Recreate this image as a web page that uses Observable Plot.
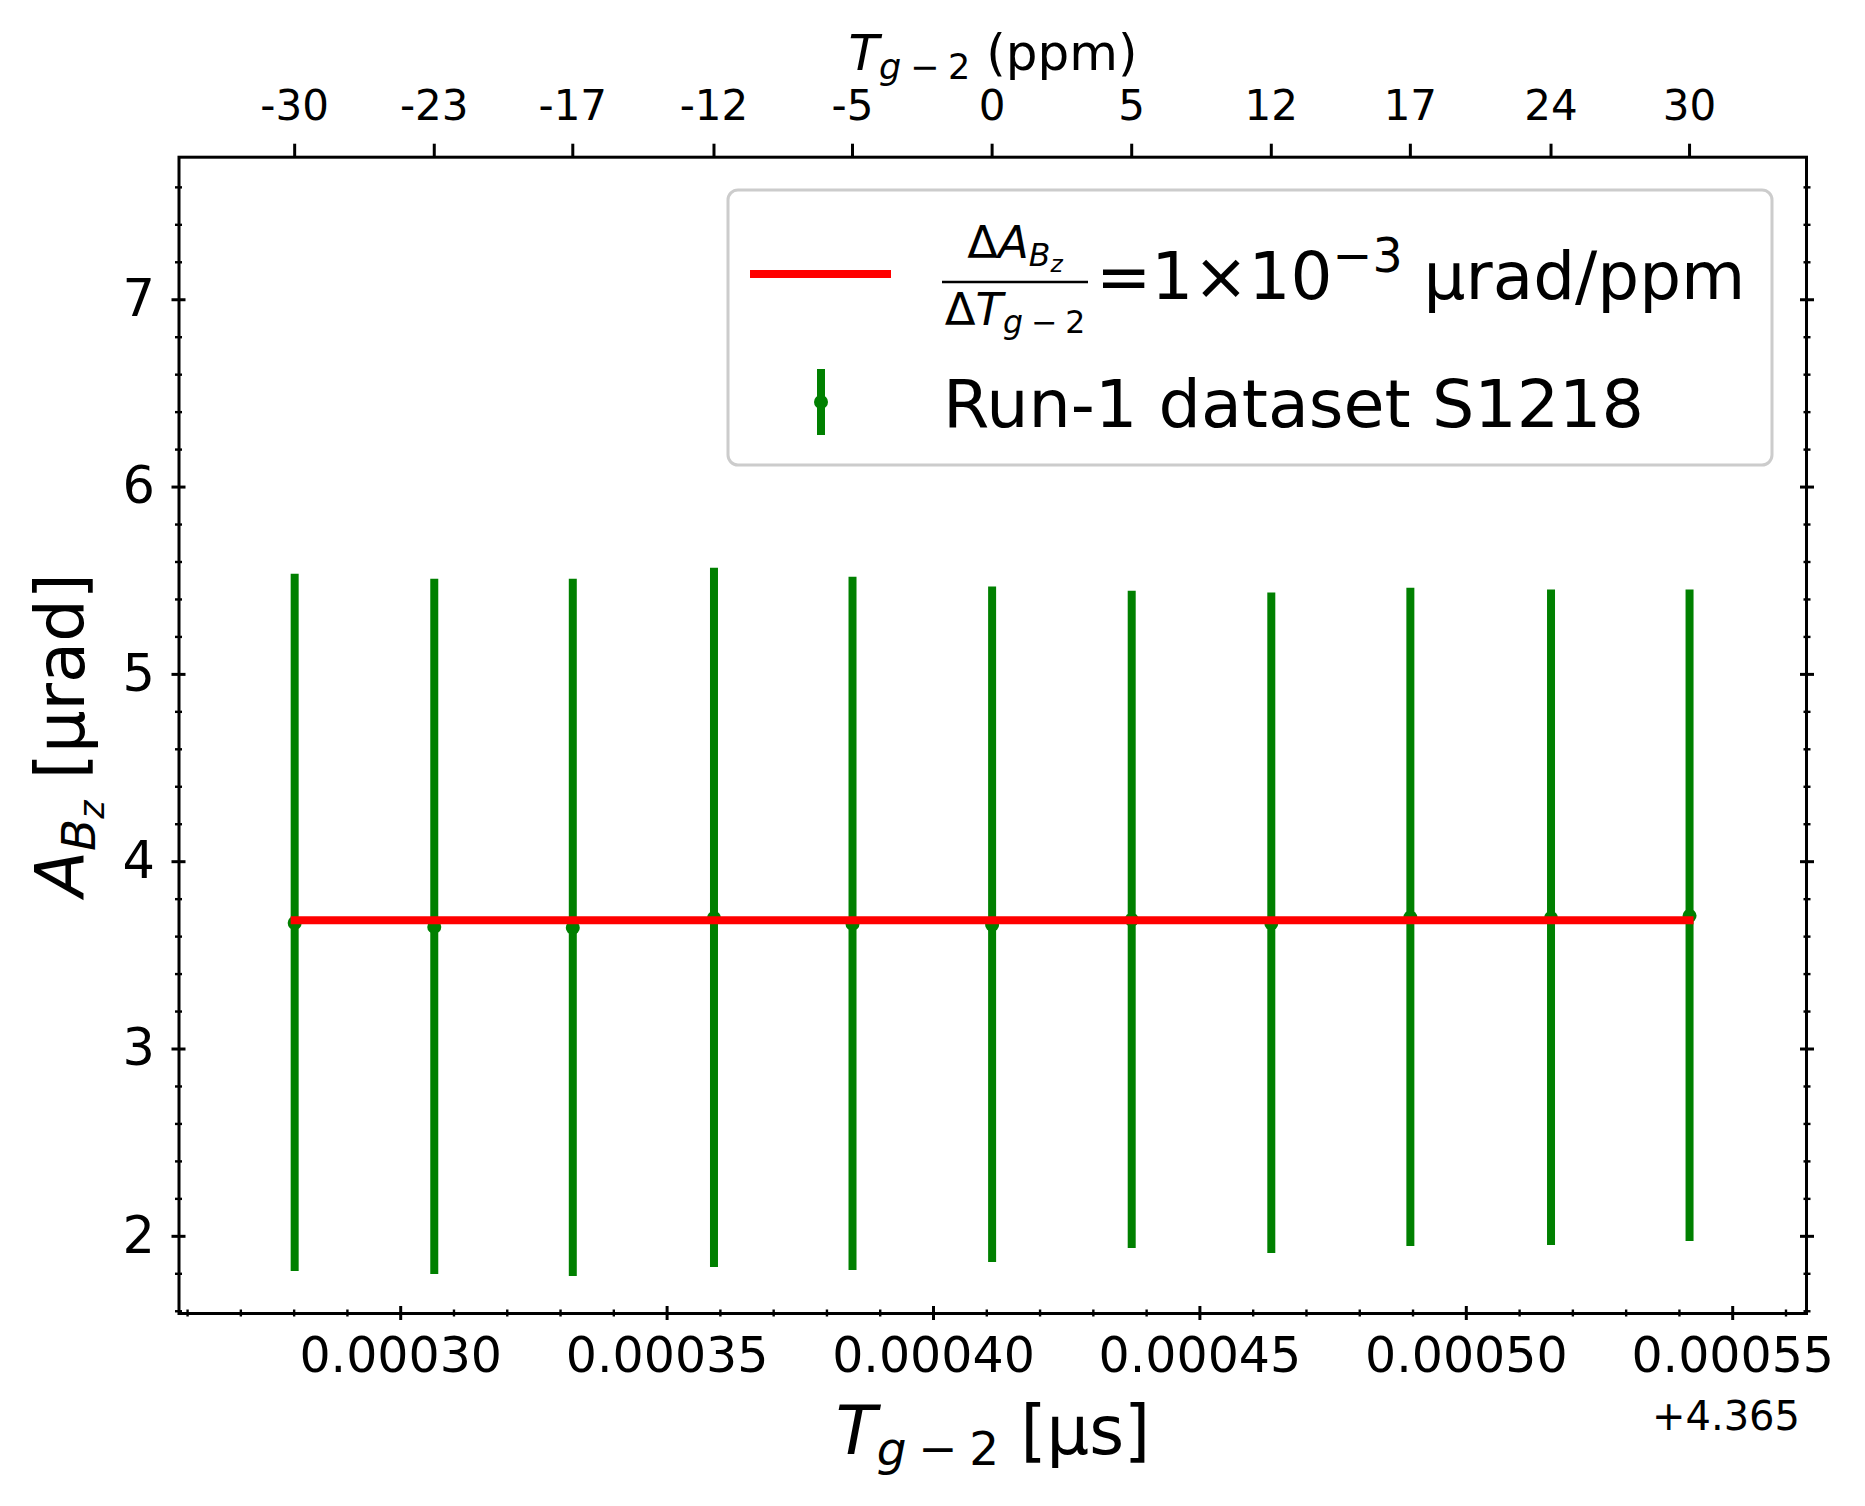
<!DOCTYPE html>
<html><head><meta charset="utf-8">
<script src="https://cdn.jsdelivr.net/npm/d3@7"></script>
<script src="https://cdn.jsdelivr.net/npm/@observablehq/plot@0.6"></script>
<style>body{margin:0;background:#fff;} svg{display:block}</style>
</head><body><div id="chart"></div>
<script>
// T_{g-2} offsets from 4.365 µs
const xBase = "+4.365";
const tOffsets = [0.0002801, 0.0003063, 0.0003323, 0.0003588, 0.0003848, 0.0004110, 0.0004372, 0.0004634, 0.0004895, 0.0005159, 0.0005419];
const ppmLabels = ["-30", "-23", "-17", "-12", "-5", "0", "5", "12", "17", "24", "30"];
const aBz   = [3.673, 3.652, 3.647, 3.700, 3.668, 3.663, 3.690, 3.671, 3.703, 3.700, 3.711];
const aBzHi = [5.535, 5.508, 5.508, 5.567, 5.519, 5.466, 5.444, 5.434, 5.460, 5.450, 5.450];
const aBzLo = [1.812, 1.796, 1.786, 1.834, 1.818, 1.860, 1.935, 1.908, 1.946, 1.951, 1.972];
const fitX = [0.0002801, 0.0005419];
const fitY = [3.688, 3.688];
const xTicks = [0.00030, 0.00035, 0.00040, 0.00045, 0.00050, 0.00055];
const xTickLabels = ["0.00030", "0.00035", "0.00040", "0.00045", "0.00050", "0.00055"];
const xMinor = [0.00026, 0.00027, 0.00028, 0.00029, 0.00031, 0.00032, 0.00033, 0.00034, 0.00036, 0.00037, 0.00038, 0.00039, 0.00041, 0.00042, 0.00043, 0.00044, 0.00046, 0.00047, 0.00048, 0.00049, 0.00051, 0.00052, 0.00053, 0.00054, 0.00056];
const yTicks = [2, 3, 4, 5, 6, 7];
const yTickLabels = ["2", "3", "4", "5", "6", "7"];
const yMinor = [1.6, 1.8, 2.2, 2.4, 2.6, 2.8, 3.2, 3.4, 3.6, 3.8, 4.2, 4.4, 4.6, 4.8, 5.2, 5.4, 5.6, 5.8, 6.2, 6.4, 6.6, 6.8, 7.2, 7.4, 7.6];
const legendFit = "=1×10";
const legendData = "Run-1 dataset S1218";

const data = tOffsets.map((x, i) => ({x, y: aBz[i], lo: aBzLo[i], hi: aBzHi[i]}));
const fit = fitX.map((x, i) => ({x, y: fitY[i]}));
const ppmMap = new Map(tOffsets.map((d, i) => [d, ppmLabels[i]]));
const xLabMap = new Map(xTicks.map((d, i) => [d, xTickLabels[i]]));
const yLabMap = new Map(yTicks.map((d, i) => [d, yTickLabels[i]]));
const blank = () => "";

const plot = Plot.plot({
  width: 1865, height: 1506,
  marginLeft: 178.5, marginRight: 59, marginTop: 156.7, marginBottom: 193,
  style: {fontFamily: "DejaVu Sans", background: "white", color: "black"},
  x: {domain: [0.00025839, 0.00056385]},
  y: {domain: [1.588, 7.761]},
  marks: [
    Plot.ruleX(data, {x: "x", y1: "lo", y2: "hi", stroke: "#008000", strokeWidth: 8}),
    Plot.dot(data, {x: "x", y: "y", r: 7, fill: "#008000", stroke: "none"}),
    Plot.line(fit, {x: "x", y: "y", stroke: "#ff0000", strokeWidth: 8, strokeLinecap: "square"}),
    // left axis
    Plot.axisY(yTicks, {anchor: "left", tickSize: 0, tickPadding: 24, fontSize: 51, tickFormat: d => yLabMap.get(d), label: null}),
    Plot.axisY(yTicks, {anchor: "left", tickSize: 14, dx: 7, tickFormat: blank, label: null, strokeWidth: 3}),
    Plot.axisY(yMinor, {anchor: "left", tickSize: 7, dx: 3.5, tickFormat: blank, label: null, strokeWidth: 2.4}),
    // right axis ticks
    Plot.axisY(yTicks, {anchor: "right", tickSize: 14, dx: -7, tickFormat: blank, label: null, strokeWidth: 3}),
    Plot.axisY(yMinor, {anchor: "right", tickSize: 7, dx: -3.5, tickFormat: blank, label: null, strokeWidth: 2.4}),
    // bottom axis
    Plot.axisX(xTicks, {anchor: "bottom", tickSize: 0, tickPadding: 24, fontSize: 49, tickFormat: d => xLabMap.get(d), label: null}),
    Plot.axisX(xTicks, {anchor: "bottom", tickSize: 14, dy: -7, tickFormat: blank, label: null, strokeWidth: 3}),
    Plot.axisX(xMinor, {anchor: "bottom", tickSize: 7, dy: -3.5, tickFormat: blank, label: null, strokeWidth: 2.4}),
    // top axis (ppm)
    Plot.axisX(tOffsets, {anchor: "top", tickSize: 14, tickPadding: 23, fontSize: 42, tickFormat: d => ppmMap.get(d), label: null, strokeWidth: 3}),
    Plot.frame({stroke: "black", strokeWidth: 3})
  ]
});

document.getElementById("chart").appendChild(plot);

// ---- math-style labels and legend ----
const svg = d3.select(plot);
const ff = "DejaVu Sans";
function mtext(sel, parts, fs, supScale = 0.75) {
  let cur = 0;
  for (const [t, it, lvl] of parts) {
    const size = lvl === 0 ? fs : lvl === 1 ? fs * 0.7 : lvl === 2 ? fs * 0.52 : fs * supScale;
    const off = lvl === 0 ? 0 : lvl === 1 ? 0.17 * fs : lvl === 2 ? 0.3 * fs : -0.4 * fs;
    sel.append("tspan")
      .attr("font-size", size)
      .attr("font-style", it ? "italic" : "normal")
      .attr("dy", off - cur)
      .text(t);
    cur = off;
  }
}
const sp = "\u2005";
const gl = svg.append("g").attr("font-family", ff).attr("fill", "black");

// x label
mtext(gl.append("text").attr("x", 993).attr("y", 1454).attr("text-anchor", "middle"),
  [["T", 1, 0], ["g", 1, 1], [sp + "−" + sp + "2", 0, 1], [" [μs]", 0, 0]], 67);
// top label
mtext(gl.append("text").attr("x", 993).attr("y", 70).attr("text-anchor", "middle"),
  [["T", 1, 0], ["g", 1, 1], [sp + "−" + sp + "2", 0, 1], [" (ppm)", 0, 0]], 50);
// y label
mtext(gl.append("text").attr("transform", "translate(84,735) rotate(-90)").attr("text-anchor", "middle"),
  [["A", 1, 0], ["B", 1, 1], ["z", 1, 2], [" [μrad]", 0, 0]], 67);
// offset text
gl.append("text").attr("x", 1800).attr("y", 1430).attr("text-anchor", "end").attr("font-size", 40).text(xBase);

// legend
const lg = svg.append("g").attr("font-family", ff).attr("fill", "black");
lg.append("rect").attr("x", 728).attr("y", 190).attr("width", 1044).attr("height", 275).attr("rx", 10)
  .attr("fill", "white").attr("fill-opacity", 0.8).attr("stroke", "#cccccc").attr("stroke-width", 3);
lg.append("line").attr("x1", 754).attr("x2", 887).attr("y1", 274).attr("y2", 274)
  .attr("stroke", "#ff0000").attr("stroke-width", 8).attr("stroke-linecap", "square");
mtext(lg.append("text").attr("x", 1015).attr("y", 258).attr("text-anchor", "middle"),
  [["Δ", 0, 0], ["A", 1, 0], ["B", 1, 1], ["z", 1, 2]], 45);
lg.append("line").attr("x1", 942).attr("x2", 1088).attr("y1", 282).attr("y2", 282)
  .attr("stroke", "black").attr("stroke-width", 2.7);
mtext(lg.append("text").attr("x", 1015).attr("y", 325).attr("text-anchor", "middle"),
  [["Δ", 0, 0], ["T", 1, 0], ["g", 1, 1], [sp + "−" + sp + "2", 0, 1]], 45);
mtext(lg.append("text").attr("x", 1096).attr("y", 298.5).attr("text-anchor", "start"),
  [[legendFit, 0, 0], ["−3", 0, -1], [" μrad/ppm", 0, 0]], 66, 0.72);
lg.append("line").attr("x1", 821).attr("x2", 821).attr("y1", 369).attr("y2", 435)
  .attr("stroke", "#008000").attr("stroke-width", 8);
lg.append("circle").attr("cx", 821).attr("cy", 402).attr("r", 7).attr("fill", "#008000");
lg.append("text").attr("x", 943).attr("y", 427).attr("text-anchor", "start").attr("font-size", 66.7).text(legendData);
</script>
</body></html>
